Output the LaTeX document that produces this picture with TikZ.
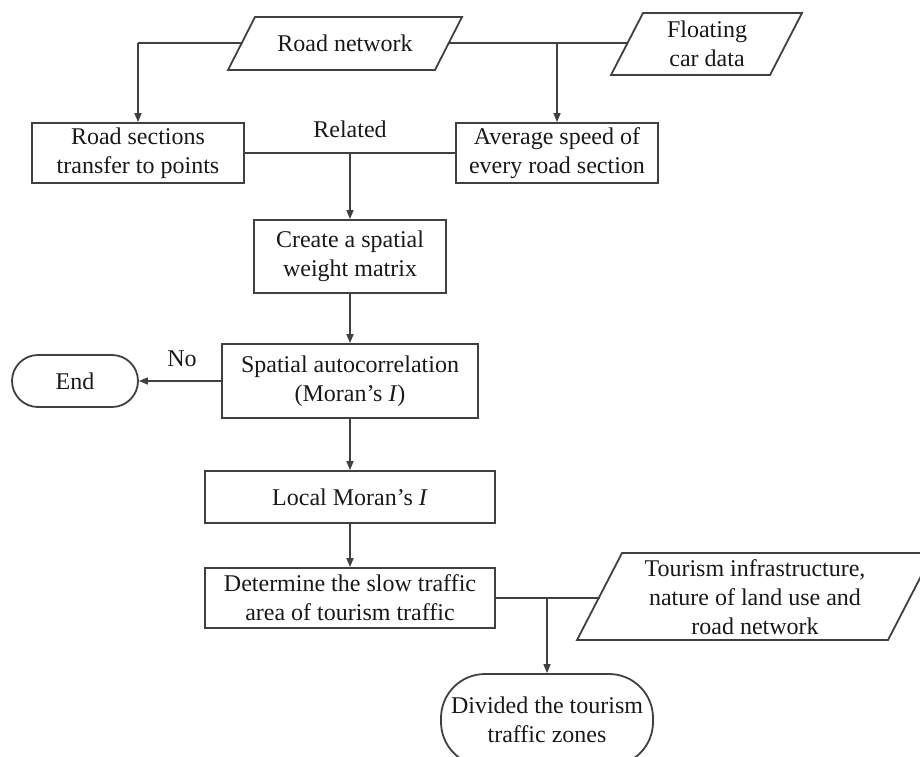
\documentclass[tikz,border=0pt]{standalone}
\usepackage{fontspec}
\setmainfont{Liberation Serif}
\usetikzlibrary{arrows.meta}
\begin{document}
\begin{tikzpicture}[x=1pt,y=-1pt,
  font=\fontsize{24}{29}\selectfont,
  line/.style={draw=black!75,line width=1.5pt},
  arr/.style={line,-{Triangle[length=9pt,width=7pt]}},
  box/.style={draw=black!75,line width=1.8pt,align=center,inner sep=0pt,text=black!90},
  term/.style={box,rounded corners=#1},
  txt/.style={align=center,inner sep=0pt,text=black!90},
  io/.style={draw=black!75,line width=1.8pt,line join=miter}]
\useasboundingbox (0,0) rectangle (920,756);
% input parallelograms
\draw[io] (255,17) -- (462,17) -- (435,70) -- (228,70) -- cycle;
\node[txt] (road) at (345,43) {Road network};
\coordinate (roadL) at (241.5,43);
\coordinate (roadR) at (448.5,43);

\draw[io] (643,13) -- (802,13) -- (770,75) -- (611,75) -- cycle;
\node[txt] (fcd) at (707,44) {Floating\\car data};
\coordinate (fcdL) at (627,43);

\draw[io] (622,553) -- (933,553) -- (888,640) -- (577,640) -- cycle;
\node[txt] (tour) at (755,597) {Tourism infrastructure,\\nature of land use and\\road network};
\coordinate (tourL) at (599.5,598);

% process boxes
\node[box,minimum width=212pt,minimum height=60pt] (sect) at (138,153) {Road sections\\transfer to points};
\node[box,minimum width=202pt,minimum height=60pt] (avg) at (557,153) {Average speed of\\every road section};
\node[box,minimum width=192pt,minimum height=73pt] (wm) at (350,256.5) {Create a spatial\\weight matrix};
\node[box,minimum width=256pt,minimum height=74pt] (sa) at (350,381) {Spatial autocorrelation\\(Moran’s \textit{I})};
\node[box,minimum width=290pt,minimum height=52pt] (lm) at (350,497) {Local Moran’s \textit{I}};
\node[box,minimum width=290pt,minimum height=60pt] (det) at (350,598) {Determine the slow traffic\\area of tourism traffic};
\node[term=26pt,minimum width=126pt,minimum height=52pt] (end) at (75,381) {End};
\node[term=44pt,minimum width=212pt,minimum height=92pt] (div) at (547,720) {Divided the tourism\\traffic zones};

% labels
\node[txt] (rel) at (350,129) {Related};
\node[txt] (no) at (182,359) {No};

% junction coordinates
\coordinate (j1) at (sect.north |- roadL);
\coordinate (j2) at (avg.north |- roadR);
\coordinate (j3) at (wm.north |- sect.east);
\coordinate (j4) at (div.north |- det.east);

% connectors
\draw[line] (roadL) -- (j1);
\draw[arr] (j1) -- (sect.north);
\draw[line] (roadR) -- (fcdL);
\draw[arr] (j2) -- (avg.north);
\draw[line] (sect.east) -- (avg.west);
\draw[arr] (j3) -- (wm.north);
\draw[arr] (wm.south) -- (sa.north);
\draw[arr] (sa.west) -- (end.east);
\draw[arr] (sa.south) -- (lm.north);
\draw[arr] (lm.south) -- (det.north);
\draw[line] (det.east) -- (tourL);
\draw[arr] (j4) -- (div.north);
\end{tikzpicture}
\end{document}
